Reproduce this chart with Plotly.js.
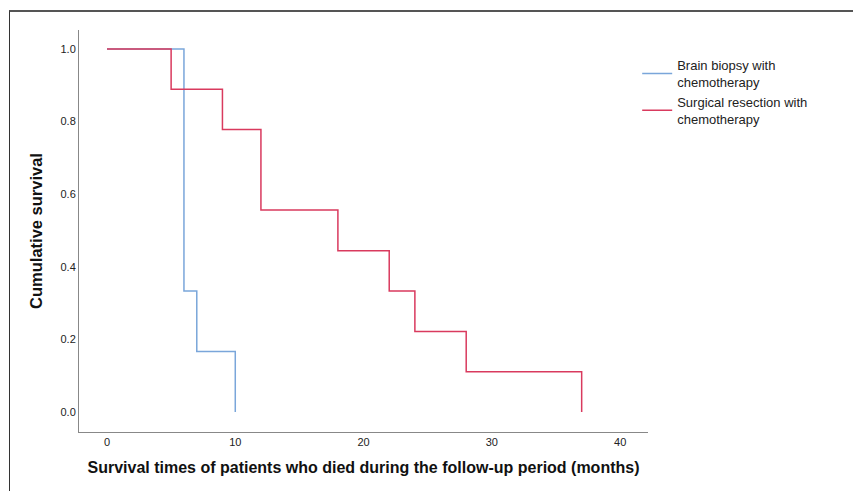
<!DOCTYPE html>
<html>
<head>
<meta charset="utf-8">
<script src="https://cdn.plot.ly/plotly-3.0.1.min.js"></script>
<style>
html,body{margin:0;padding:0;background:#fff;}
#chart{width:853px;height:491px;}
#frame{position:absolute;left:9px;top:10px;width:844px;height:481px;border-top:2px solid #555;border-left:1px solid #333;pointer-events:none;box-sizing:border-box;}
</style>
</head>
<body>
<div id="chart"></div>
<div id="frame"></div>
<script>
const seriesNames = ["Brain biopsy with<br>chemotherapy", "Surgical resection with<br>chemotherapy"];
const biopsyTimes = [0, 6, 7, 10];
const biopsySurv = [1.0, 0.333, 0.167, 0.0];
const surgeryTimes = [0, 5, 9, 12, 18, 22, 24, 28, 37];
const surgerySurv = [1.0, 0.889, 0.778, 0.556, 0.444, 0.333, 0.222, 0.111, 0.0];
const xTicks = [0, 10, 20, 30, 40];
const yTicks = [0.0, 0.2, 0.4, 0.6, 0.8, 1.0];

const traces = [
  {x: biopsyTimes, y: biopsySurv, name: seriesNames[0], mode: "lines",
   line: {shape: "hv", color: "#7aa6da", width: 1.5}},
  {x: surgeryTimes, y: surgerySurv, name: seriesNames[1], mode: "lines",
   line: {shape: "hv", color: "#d93a5e", width: 1.5}}
];

const layout = {
  width: 853, height: 491,
  margin: {l: 79, r: 205, t: 30, b: 59},
  paper_bgcolor: "#fff", plot_bgcolor: "#fff",
  font: {family: "Liberation Sans, Arial, sans-serif", size: 11, color: "#222"},
  showlegend: true,
  legend: {x: 0.981, y: 0.95, xanchor: "left", yanchor: "top", tracegroupgap: 0,
           font: {size: 13, color: "#222"}, itemwidth: 30},
  xaxis: {
    range: [-2.18, 42.17], tickvals: xTicks, ticktext: xTicks.map(String),
    showgrid: false, zeroline: false, showline: true, linecolor: "#888", linewidth: 1,
    ticks: "", ticklen: 0, tickfont: {size: 11, color: "#222"},
    title: {text: "Survival times of patients who died during the follow-up period (months)",
            font: {size: 16, color: "#111", family: "Liberation Sans, Arial, sans-serif", weight: "bold"}, standoff: 14}
  },
  yaxis: {
    range: [-0.055, 1.052], tickvals: yTicks, ticktext: yTicks.map(v => v.toFixed(1)),
    showgrid: false, zeroline: false, showline: true, linecolor: "#888", linewidth: 1,
    ticks: "", ticklen: 0, tickfont: {size: 11, color: "#222"},
    title: {text: "Cumulative survival",
            font: {size: 16.5, color: "#111", family: "Liberation Sans, Arial, sans-serif", weight: "bold"}, standoff: 13}
  }
};

Plotly.newPlot("chart", traces, layout, {displayModeBar: false, staticPlot: true});
</script>
</body>
</html>
